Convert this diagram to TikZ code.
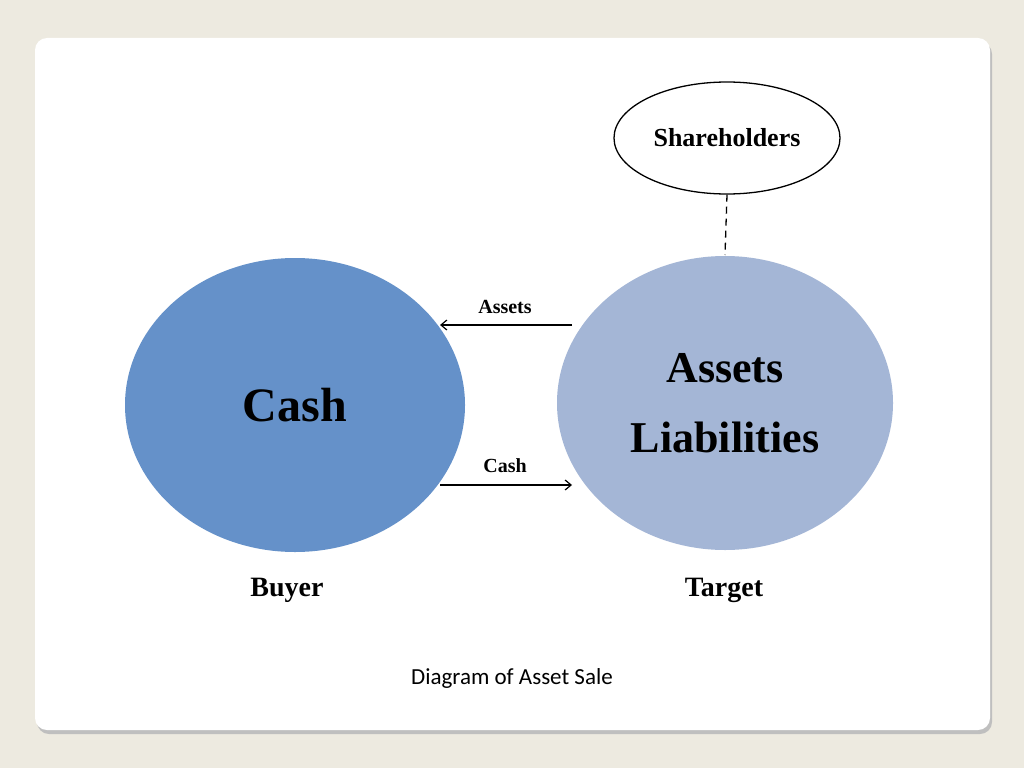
\documentclass[tikz,border=0pt]{standalone}
\usepackage{fontspec}
\setmainfont{Liberation Serif}
\newfontfamily\capfont{Carlito}
\usetikzlibrary{shapes.geometric,arrows.meta,shadows}
\definecolor{bg}{HTML}{EDEAE0}
\definecolor{buyerblue}{HTML}{6591C9}
\definecolor{targetblue}{HTML}{A4B6D6}
\tikzset{
  lbl/.style={font=\bfseries\fontsize{28}{30}\selectfont},
  arr/.style={-{Straight Barb[length=6pt,width=10pt]},line width=1.2pt},
  arrlbl/.style={font=\bfseries\fontsize{20}{22}\selectfont}
}
\begin{document}
\begin{tikzpicture}[x=1pt,y=-1pt]
\fill[bg] (0,0) rectangle (1024,768);
\useasboundingbox (0,0) rectangle (1024,768);
\fill[black!25,rounded corners=12pt] (37,42) rectangle (992,734);
\fill[white,rounded corners=12pt] (35,38) rectangle (990,730);
\node[ellipse,fill=buyerblue,minimum width=340,minimum height=294,
  font=\bfseries\fontsize{48}{50}\selectfont] (buyer) at (295,405) {Cash};
\node[ellipse,fill=targetblue,minimum width=336,minimum height=294,align=center,
  font=\bfseries\fontsize{44}{70}\selectfont] (target) at (725,403) {Assets\\Liabilities};
\node[ellipse,draw,line width=1.3pt,fill=white,minimum width=226,minimum height=112,
  font=\bfseries\fontsize{26}{28}\selectfont] (sh) at (727,138) {Shareholders};
\coordinate (tt) at (725,255);
\draw[dashed,line width=1.3pt,dash pattern=on 7pt off 5pt] (sh.south) -- (tt);
\coordinate (a1) at (572,325); \coordinate (a2) at (440,325);
\coordinate (c1) at (440,485); \coordinate (c2) at (572,485);
\draw[arr] (a1) -- (a2);
\draw[arr] (c1) -- (c2);
\node[arrlbl] (al) at (505,307) {Assets};
\node[arrlbl] (cl) at (505,466) {Cash};
\node[lbl] (b) at (287,590) {Buyer};
\node[lbl] (t) at (724,590) {Target};
\node[font=\capfont\fontsize{23}{25}\selectfont] (cap) at (512,678) {Diagram of Asset Sale};
\end{tikzpicture}
\end{document}
